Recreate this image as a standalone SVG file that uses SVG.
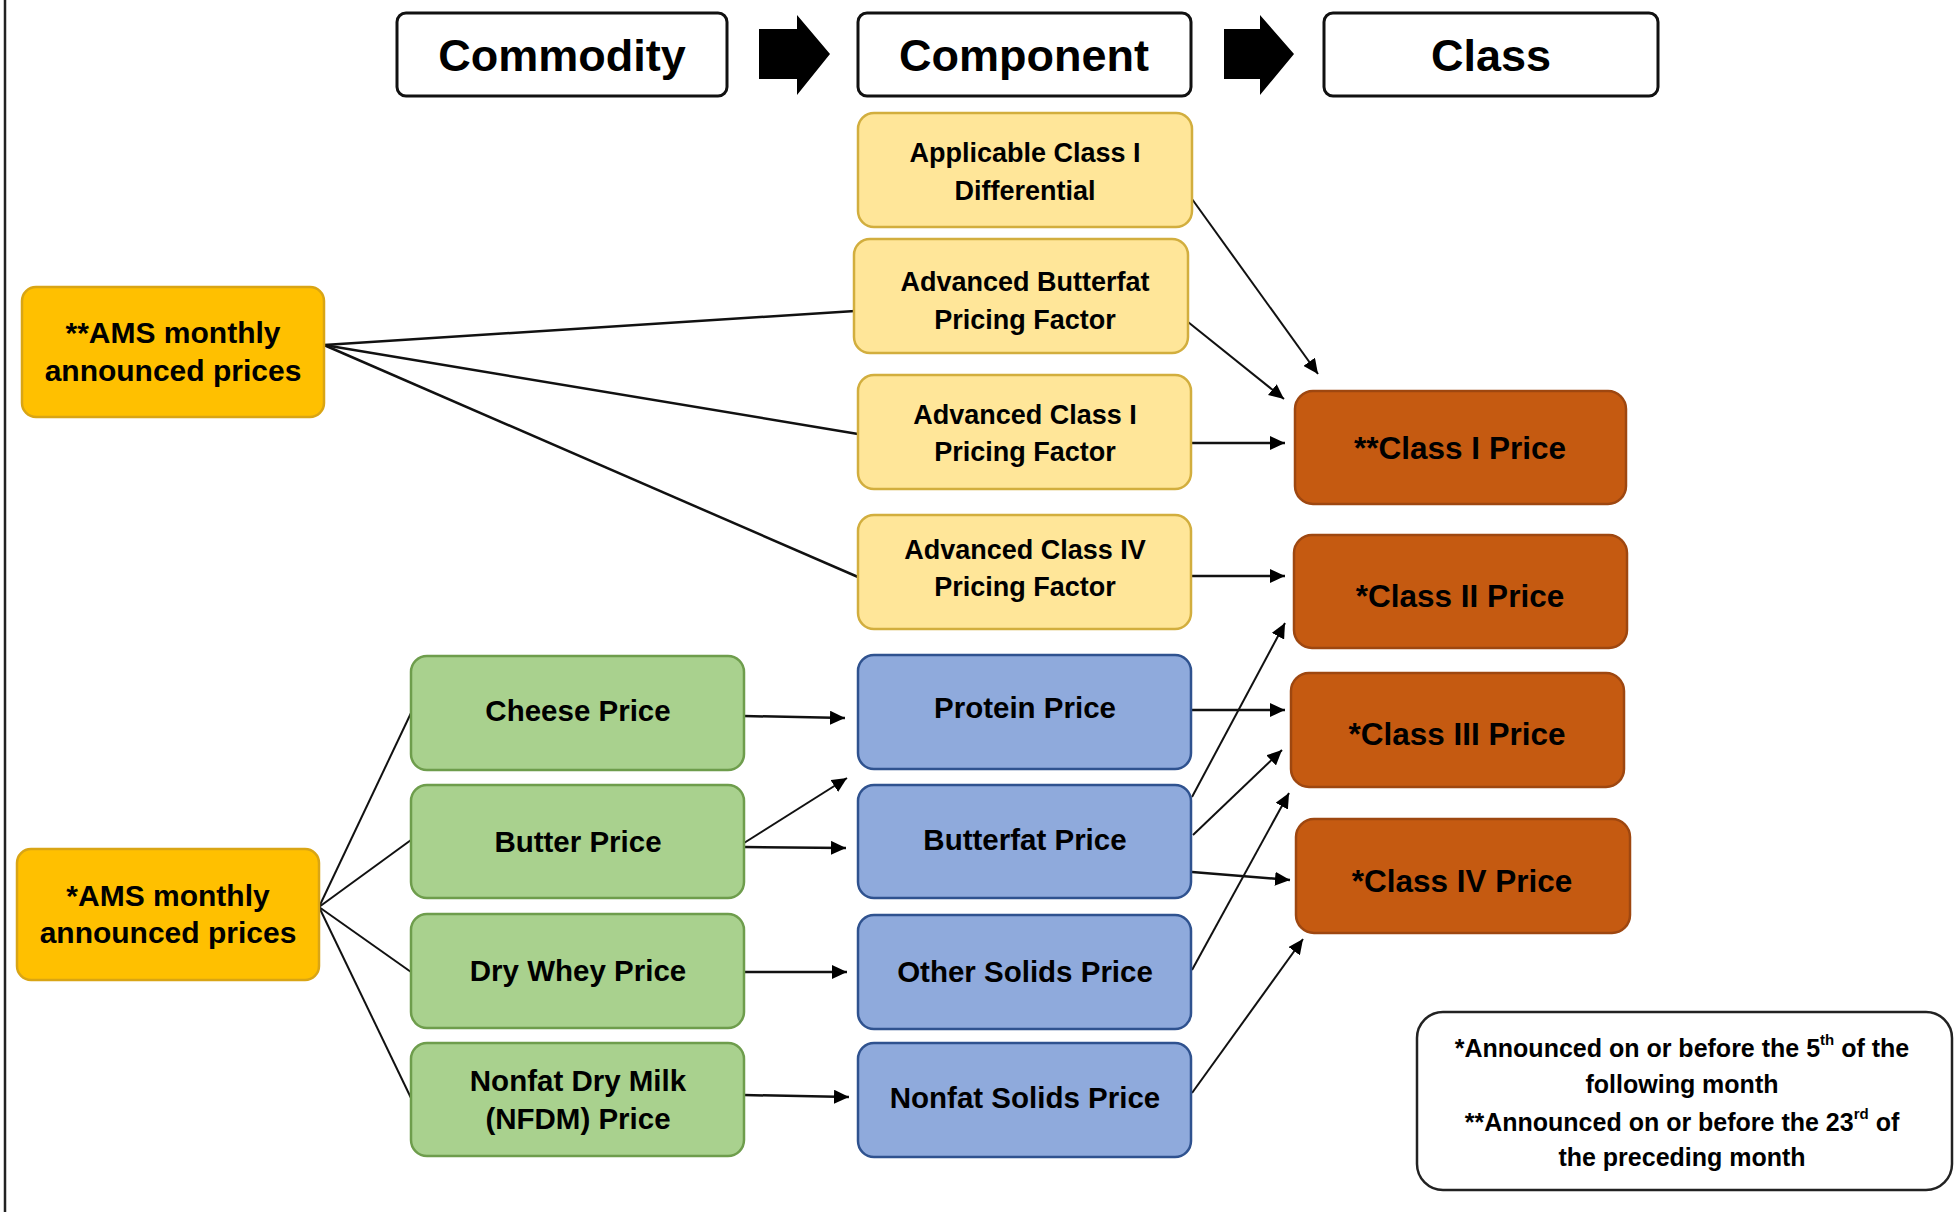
<svg xmlns="http://www.w3.org/2000/svg" width="1954" height="1212" viewBox="0 0 1954 1212">
<style>
text{font-family:"Liberation Sans",Arial,sans-serif;font-weight:bold;fill:#000;text-anchor:middle;dominant-baseline:central}
.hdr rect{fill:#fff;stroke:#111;stroke-width:3}
.hdr text{font-size:45px}
.yel rect{fill:#FFE699;stroke:#D2AE3E;stroke-width:2.5}
.yel text{font-size:27px}
.grn rect{fill:#A9D18E;stroke:#6E9D4C;stroke-width:2.5}
.grn text{font-size:29.5px}
.blu rect{fill:#8FAADC;stroke:#2F528F;stroke-width:2.5}
.blu text{font-size:29.5px}
.ams rect{fill:#FFC000;stroke:#D9A514;stroke-width:2.5}
.ams text{font-size:30px}
.cls rect{fill:#C55A11;stroke:#9E4710;stroke-width:2.5}
.cls text{font-size:31.5px}
.leg rect{fill:#fff;stroke:#222;stroke-width:2.5}
.leg text{font-size:25px}
#connectors line{stroke:#111;stroke-width:2.5;fill:none}
#connectors line.a{marker-end:url(#ah)}
#connectors line.t{stroke-width:2}
</style>
<defs>
<marker id="ah" markerUnits="userSpaceOnUse" markerWidth="16" markerHeight="14" refX="15" refY="7" orient="auto">
<path d="M0,0 L15,7 L0,14 z" fill="#000"/>
</marker>
</defs>
<rect width="1954" height="1212" fill="#fff"/>
<line x1="5" y1="0" x2="5" y2="1212" stroke="#222" stroke-width="2.5"/>

<g id="hdr-commodity" class="hdr"><rect x="397" y="13" width="330" height="83" rx="9"/><text x="562" y="55">Commodity</text></g>
<g id="hdr-arrow1"><path d="M759,29 H797 V15 L830,54 L797,95 V79 H759 z" fill="#000"/></g>
<g id="hdr-component" class="hdr"><rect x="858" y="13" width="333" height="83" rx="9"/><text x="1024" y="55">Component</text></g>
<g id="hdr-arrow2"><path d="M1224,29 H1260 V15 L1294,54 L1260,95 V79 H1224 z" fill="#000"/></g>
<g id="hdr-class" class="hdr"><rect x="1324" y="13" width="334" height="83" rx="9"/><text x="1491" y="55">Class</text></g>

<g id="connectors">
<line x1="324" y1="345" x2="855" y2="311"/>
<line x1="324" y1="345" x2="858" y2="434"/>
<line x1="324" y1="345" x2="858" y2="577"/>
<line class="a t" x1="1192" y1="199" x2="1318" y2="374"/>
<line class="a t" x1="1188" y1="322" x2="1284" y2="399"/>
<line class="a" x1="1191" y1="443" x2="1285" y2="443"/>
<line class="a" x1="1191" y1="576" x2="1285" y2="576"/>
<line class="a" x1="1191" y1="710" x2="1285" y2="710"/>
<line class="a t" x1="1192" y1="797" x2="1285" y2="623"/>
<line class="a t" x1="1193" y1="835" x2="1282" y2="750"/>
<line class="a" x1="1192" y1="872" x2="1290" y2="880"/>
<line class="a t" x1="1192" y1="970" x2="1289" y2="793"/>
<line class="a t" x1="1192" y1="1093" x2="1303" y2="939"/>
<line class="a" x1="744" y1="716" x2="845" y2="718"/>
<line class="a" x1="744" y1="847" x2="846" y2="848"/>
<line class="a t" x1="744" y1="843" x2="847" y2="778"/>
<line class="a" x1="744" y1="972" x2="847" y2="972"/>
<line class="a" x1="744" y1="1095" x2="849" y2="1097"/>
<line class="t" x1="319" y1="907" x2="411" y2="713"/>
<line class="t" x1="319" y1="907" x2="411" y2="840"/>
<line class="t" x1="319" y1="907" x2="411" y2="972"/>
<line class="t" x1="319" y1="907" x2="411" y2="1098"/>
</g>

<g id="applicable-class-i-differential" class="yel"><rect x="858" y="113" width="334" height="114" rx="16"/><text x="1025" y="153">Applicable Class I</text><text x="1025" y="191">Differential</text></g>
<g id="advanced-butterfat" class="yel"><rect x="854" y="239" width="334" height="114" rx="16"/><text x="1025" y="282">Advanced Butterfat</text><text x="1025" y="320">Pricing Factor</text></g>
<g id="advanced-class-i" class="yel"><rect x="858" y="375" width="333" height="114" rx="16"/><text x="1025" y="415">Advanced Class I</text><text x="1025" y="452">Pricing Factor</text></g>
<g id="advanced-class-iv" class="yel"><rect x="858" y="515" width="333" height="114" rx="16"/><text x="1025" y="550">Advanced Class IV</text><text x="1025" y="587">Pricing Factor</text></g>

<g id="protein-price" class="blu"><rect x="858" y="655" width="333" height="114" rx="16"/><text x="1025" y="707">Protein Price</text></g>
<g id="butterfat-price" class="blu"><rect x="858" y="785" width="333" height="113" rx="16"/><text x="1025" y="839">Butterfat Price</text></g>
<g id="other-solids-price" class="blu"><rect x="858" y="915" width="333" height="114" rx="16"/><text x="1025" y="971">Other Solids Price</text></g>
<g id="nonfat-solids-price" class="blu"><rect x="858" y="1043" width="333" height="114" rx="16"/><text x="1025" y="1097">Nonfat Solids Price</text></g>

<g id="cheese-price" class="grn"><rect x="411" y="656" width="333" height="114" rx="16"/><text x="578" y="710">Cheese Price</text></g>
<g id="butter-price" class="grn"><rect x="411" y="785" width="333" height="113" rx="16"/><text x="578" y="841">Butter Price</text></g>
<g id="dry-whey-price" class="grn"><rect x="411" y="914" width="333" height="114" rx="16"/><text x="578" y="970">Dry Whey Price</text></g>
<g id="nfdm-price" class="grn"><rect x="411" y="1043" width="333" height="113" rx="16"/><text x="578" y="1080">Nonfat Dry Milk</text><text x="578" y="1118">(NFDM) Price</text></g>

<g id="ams-advance" class="ams"><rect x="22" y="287" width="302" height="130" rx="14"/><text x="173" y="332">**AMS monthly</text><text x="173" y="370">announced prices</text></g>
<g id="ams-monthly" class="ams"><rect x="17" y="849" width="302" height="131" rx="14"/><text x="168" y="895">*AMS monthly</text><text x="168" y="932">announced prices</text></g>

<g id="class-i-price" class="cls"><rect x="1295" y="391" width="331" height="113" rx="18"/><text x="1460" y="448">**Class I Price</text></g>
<g id="class-ii-price" class="cls"><rect x="1294" y="535" width="333" height="113" rx="18"/><text x="1460" y="596">*Class II Price</text></g>
<g id="class-iii-price" class="cls"><rect x="1291" y="673" width="333" height="114" rx="18"/><text x="1457" y="734">*Class III Price</text></g>
<g id="class-iv-price" class="cls"><rect x="1296" y="819" width="334" height="114" rx="18"/><text x="1462" y="881">*Class IV Price</text></g>

<g id="legend" class="leg"><rect x="1417" y="1012" width="535" height="178" rx="26"/>
<text x="1682" y="1048">*Announced on or before the 5<tspan font-size="15" dy="-9">th</tspan><tspan dy="9"> of the</tspan></text>
<text x="1682" y="1084">following month</text>
<text x="1682" y="1122">**Announced on or before the 23<tspan font-size="15" dy="-9">rd</tspan><tspan dy="9"> of</tspan></text>
<text x="1682" y="1157">the preceding month</text>
</g>
</svg>
